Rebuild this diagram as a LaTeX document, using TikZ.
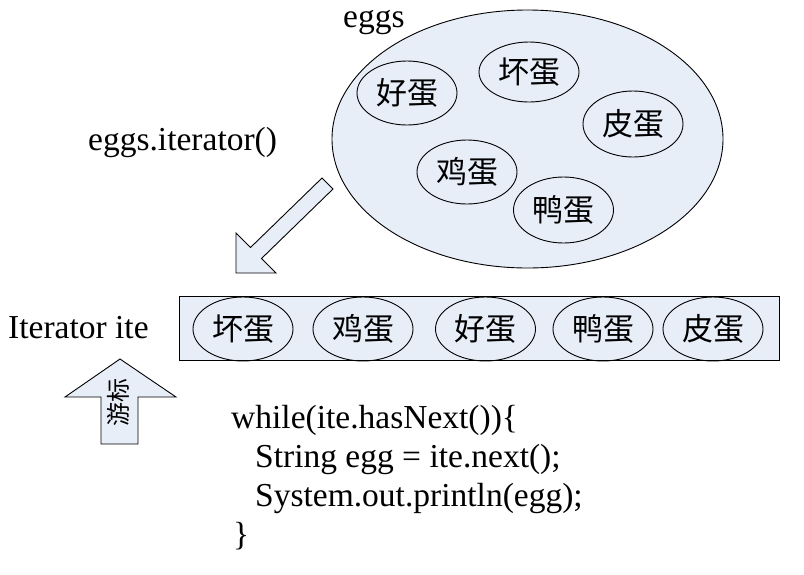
\documentclass[tikz,border=0pt]{standalone}
\usepackage{fontspec}
\setmainfont{Liberation Serif}
\newfontfamily\cjk{Noto Sans CJK SC}
\usetikzlibrary{shapes.geometric}
\definecolor{eggfill}{RGB}{232,238,248}
\begin{document}
\begin{tikzpicture}[x=1pt,y=-1pt,
  lat/.style={anchor=base west,inner sep=0pt,font=\fontsize{33.5}{40}\selectfont},
  eggnode/.style={ellipse,draw,line width=0.9pt,inner sep=0pt,
    minimum width=100pt,minimum height=64pt,font=\cjk\fontsize{31}{36}\selectfont},
  blockarrow/.style={draw,line width=0.9pt,fill=eggfill,line join=miter}]
\useasboundingbox (0,0) rectangle (804,574);
% big set
\node[ellipse,draw,line width=0.9pt,fill=eggfill,minimum width=391pt,minimum height=258pt,inner sep=0pt] (eggs) at (527.5,139) {};
\node[lat] (eggslabel) at (343,27) {eggs};
\node[eggnode] (s1) at (407,93) {好蛋};
\node[eggnode,minimum height=60pt] (s2) at (529,72) {坏蛋};
\node[eggnode,minimum height=66pt] (s3) at (633,124) {皮蛋};
\node[eggnode] (s4) at (467,172) {鸡蛋};
\node[eggnode,minimum height=66pt] (s5) at (563.5,210) {鸭蛋};
% label
\node[lat] (itcall) at (88,150) {eggs.iterator()};
% diagonal block arrow
\draw[blockarrow] (322,178) -- (250.5,247.5) -- (236,233) -- (236,273) -- (276,273) -- (261.5,258.5) -- (333,189) -- cycle;
% iterator box
\node[draw,line width=0.9pt,fill=eggfill,minimum width=600pt,minimum height=64pt,inner sep=0pt] (box) at (479,328) {};
\node[lat] (itlabel) at (8,338) {Iterator ite};
\node[eggnode] (b1) at (243,329) {坏蛋};
\node[eggnode] (b2) at (363,329) {鸡蛋};
\node[eggnode] (b3) at (485.5,329) {好蛋};
\node[eggnode] (b4) at (603,329) {鸭蛋};
\node[eggnode] (b5) at (713,329) {皮蛋};
% cursor arrow
\draw[blockarrow] (120,359) -- (176,397) -- (138,397) -- (138,444) -- (101,444) -- (101,397) -- (65,397) -- cycle;
\node[rotate=90,inner sep=0pt,font=\cjk\fontsize{24}{28}\selectfont] (cursor) at (118,402) {游标};
% code
\node[lat] (code1) at (231,428) {while(ite.hasNext())\char`\{};
\node[lat] (code2) at (255,467) {String egg = ite.next();};
\node[lat] (code3) at (255,506) {System.out.println(egg);};
\node[lat] (code4) at (233,545) {\char`\}};
\end{tikzpicture}
\end{document}
